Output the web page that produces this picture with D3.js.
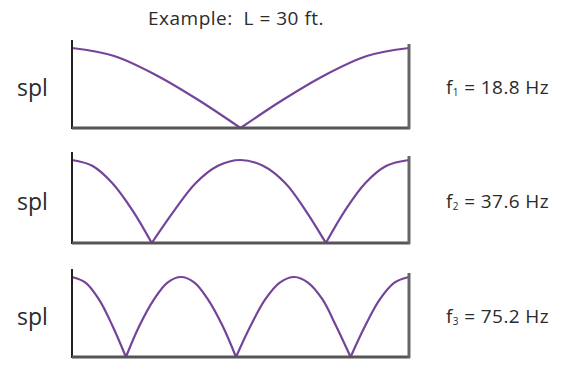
<!DOCTYPE html>
<html>
<head>
<meta charset="utf-8">
<script src="https://cdn.jsdelivr.net/npm/d3@7"></script>
<style>
  body { margin: 0; background: #fff; }
  svg { display: block; }
  text { font-family: 'Open Sans', sans-serif; fill: #2b2b2b; white-space: pre; }
</style>
</head>
<body>
<svg id="chart"></svg>
<script>
// room length in ft, and the readings taken off each panel (position ft, relative spl)
const roomLength = 30;
const title = 'Example:  L = 30 ft.';
const yLabel = 'spl';
const modeIndex = ['1', '2', '3'];
const freqLabels = ['18.8 Hz', '37.6 Hz', '75.2 Hz'];

const positions1 = [0, 3.75, 7.5, 11.25, 15, 18.75, 22.5, 26.25, 30];
const levels1 = [1.0, 0.9, 0.66, 0.35, 0, 0.35, 0.66, 0.9, 1.0];

const positions2 = [0, 1.8, 3.6, 5.4, 7.1, 9.1, 11.0, 13.0, 15, 17.0, 19.0, 20.8, 22.6, 24.3, 26.1, 28.0, 30];
const levels2 = [1, 0.93, 0.72, 0.39, 0, 0.39, 0.72, 0.93, 1, 0.93, 0.72, 0.39, 0, 0.39, 0.72, 0.93, 1];

const positions3 = [0, 1.2, 2.4, 3.6, 4.8, 6.0, 7.3, 8.5, 9.7, 10.9, 12.1, 13.4, 14.6, 15.9, 17.2, 18.5, 19.8, 21.0, 22.3, 23.5, 24.8, 26.1, 27.4, 28.7, 30];
const levels3 = [1, 0.93, 0.72, 0.39, 0, 0.39, 0.72, 0.93, 1, 0.93, 0.72, 0.39, 0, 0.39, 0.72, 0.93, 1, 0.93, 0.72, 0.39, 0, 0.39, 0.72, 0.93, 1];

const width = 582, height = 369;
const svg = d3.select('#chart').attr('width', width).attr('height', height);

const x = d3.scaleLinear().domain([0, roomLength]).range([72, 409]);

// one entry per panel: baseline y and y of full level
const panels = [
  { pos: positions1, lev: levels1, base: 128, top: 48 },
  { pos: positions2, lev: levels2, base: 243, top: 160 },
  { pos: positions3, lev: levels3, base: 357, top: 277 }
];

svg.append('text')
  .attr('x', 148).attr('y', 25)
  .style('font-size', '19px')
  .style('letter-spacing', '0.5px')
  .text(title);

panels.forEach((p, i) => {
  const y = d3.scaleLinear().domain([0, 1]).range([p.base, p.top]);
  const g = svg.append('g');

  // split the readings into lobes at the nulls so the V stays sharp
  const pts = p.pos.map((d, k) => [d, p.lev[k]]);
  const lobes = [];
  let cur = [];
  pts.forEach(pt => {
    cur.push(pt);
    if (pt[1] === 0 && cur.length > 1) { lobes.push(cur); cur = [pt]; }
  });
  if (cur.length > 1) lobes.push(cur);

  const line = d3.line()
    .x(d => x(d[0]))
    .y(d => y(d[1]))
    .curve(d3.curveCatmullRom.alpha(0.5));

  g.selectAll('.lobe')
    .data(lobes)
    .enter()
    .append('path')
    .attr('d', line)
    .attr('fill', 'none')
    .attr('stroke', '#74449a')
    .attr('stroke-width', 2.2);

  // frame: left wall, floor, right wall
  g.append('line')
    .attr('x1', x(0)).attr('x2', x(0))
    .attr('y1', y(1) - 8).attr('y2', p.base + 1)
    .attr('stroke', '#222').attr('stroke-width', 2);
  g.append('line')
    .attr('x1', x(0)).attr('x2', x(roomLength) + 1)
    .attr('y1', p.base).attr('y2', p.base)
    .attr('stroke', '#555').attr('stroke-width', 3);
  g.append('line')
    .attr('x1', x(roomLength)).attr('x2', x(roomLength))
    .attr('y1', y(1) - 4).attr('y2', p.base + 1)
    .attr('stroke', '#666').attr('stroke-width', 3);

  svg.append('text')
    .attr('x', 17).attr('y', (p.base + p.top) / 2 + 8)
    .style('font-size', '23px')
    .text(yLabel);

  const lab = svg.append('text')
    .attr('x', 446).attr('y', (p.base + p.top) / 2 + 6)
    .style('font-size', '19px')
    .style('letter-spacing', '0.4px');
  lab.append('tspan').text('f');
  lab.append('tspan').attr('dy', 2).style('font-size', '10px').text(modeIndex[i]);
  lab.append('tspan').attr('dy', -2).text(' = ' + freqLabels[i]);
});
</script>
</body>
</html>
